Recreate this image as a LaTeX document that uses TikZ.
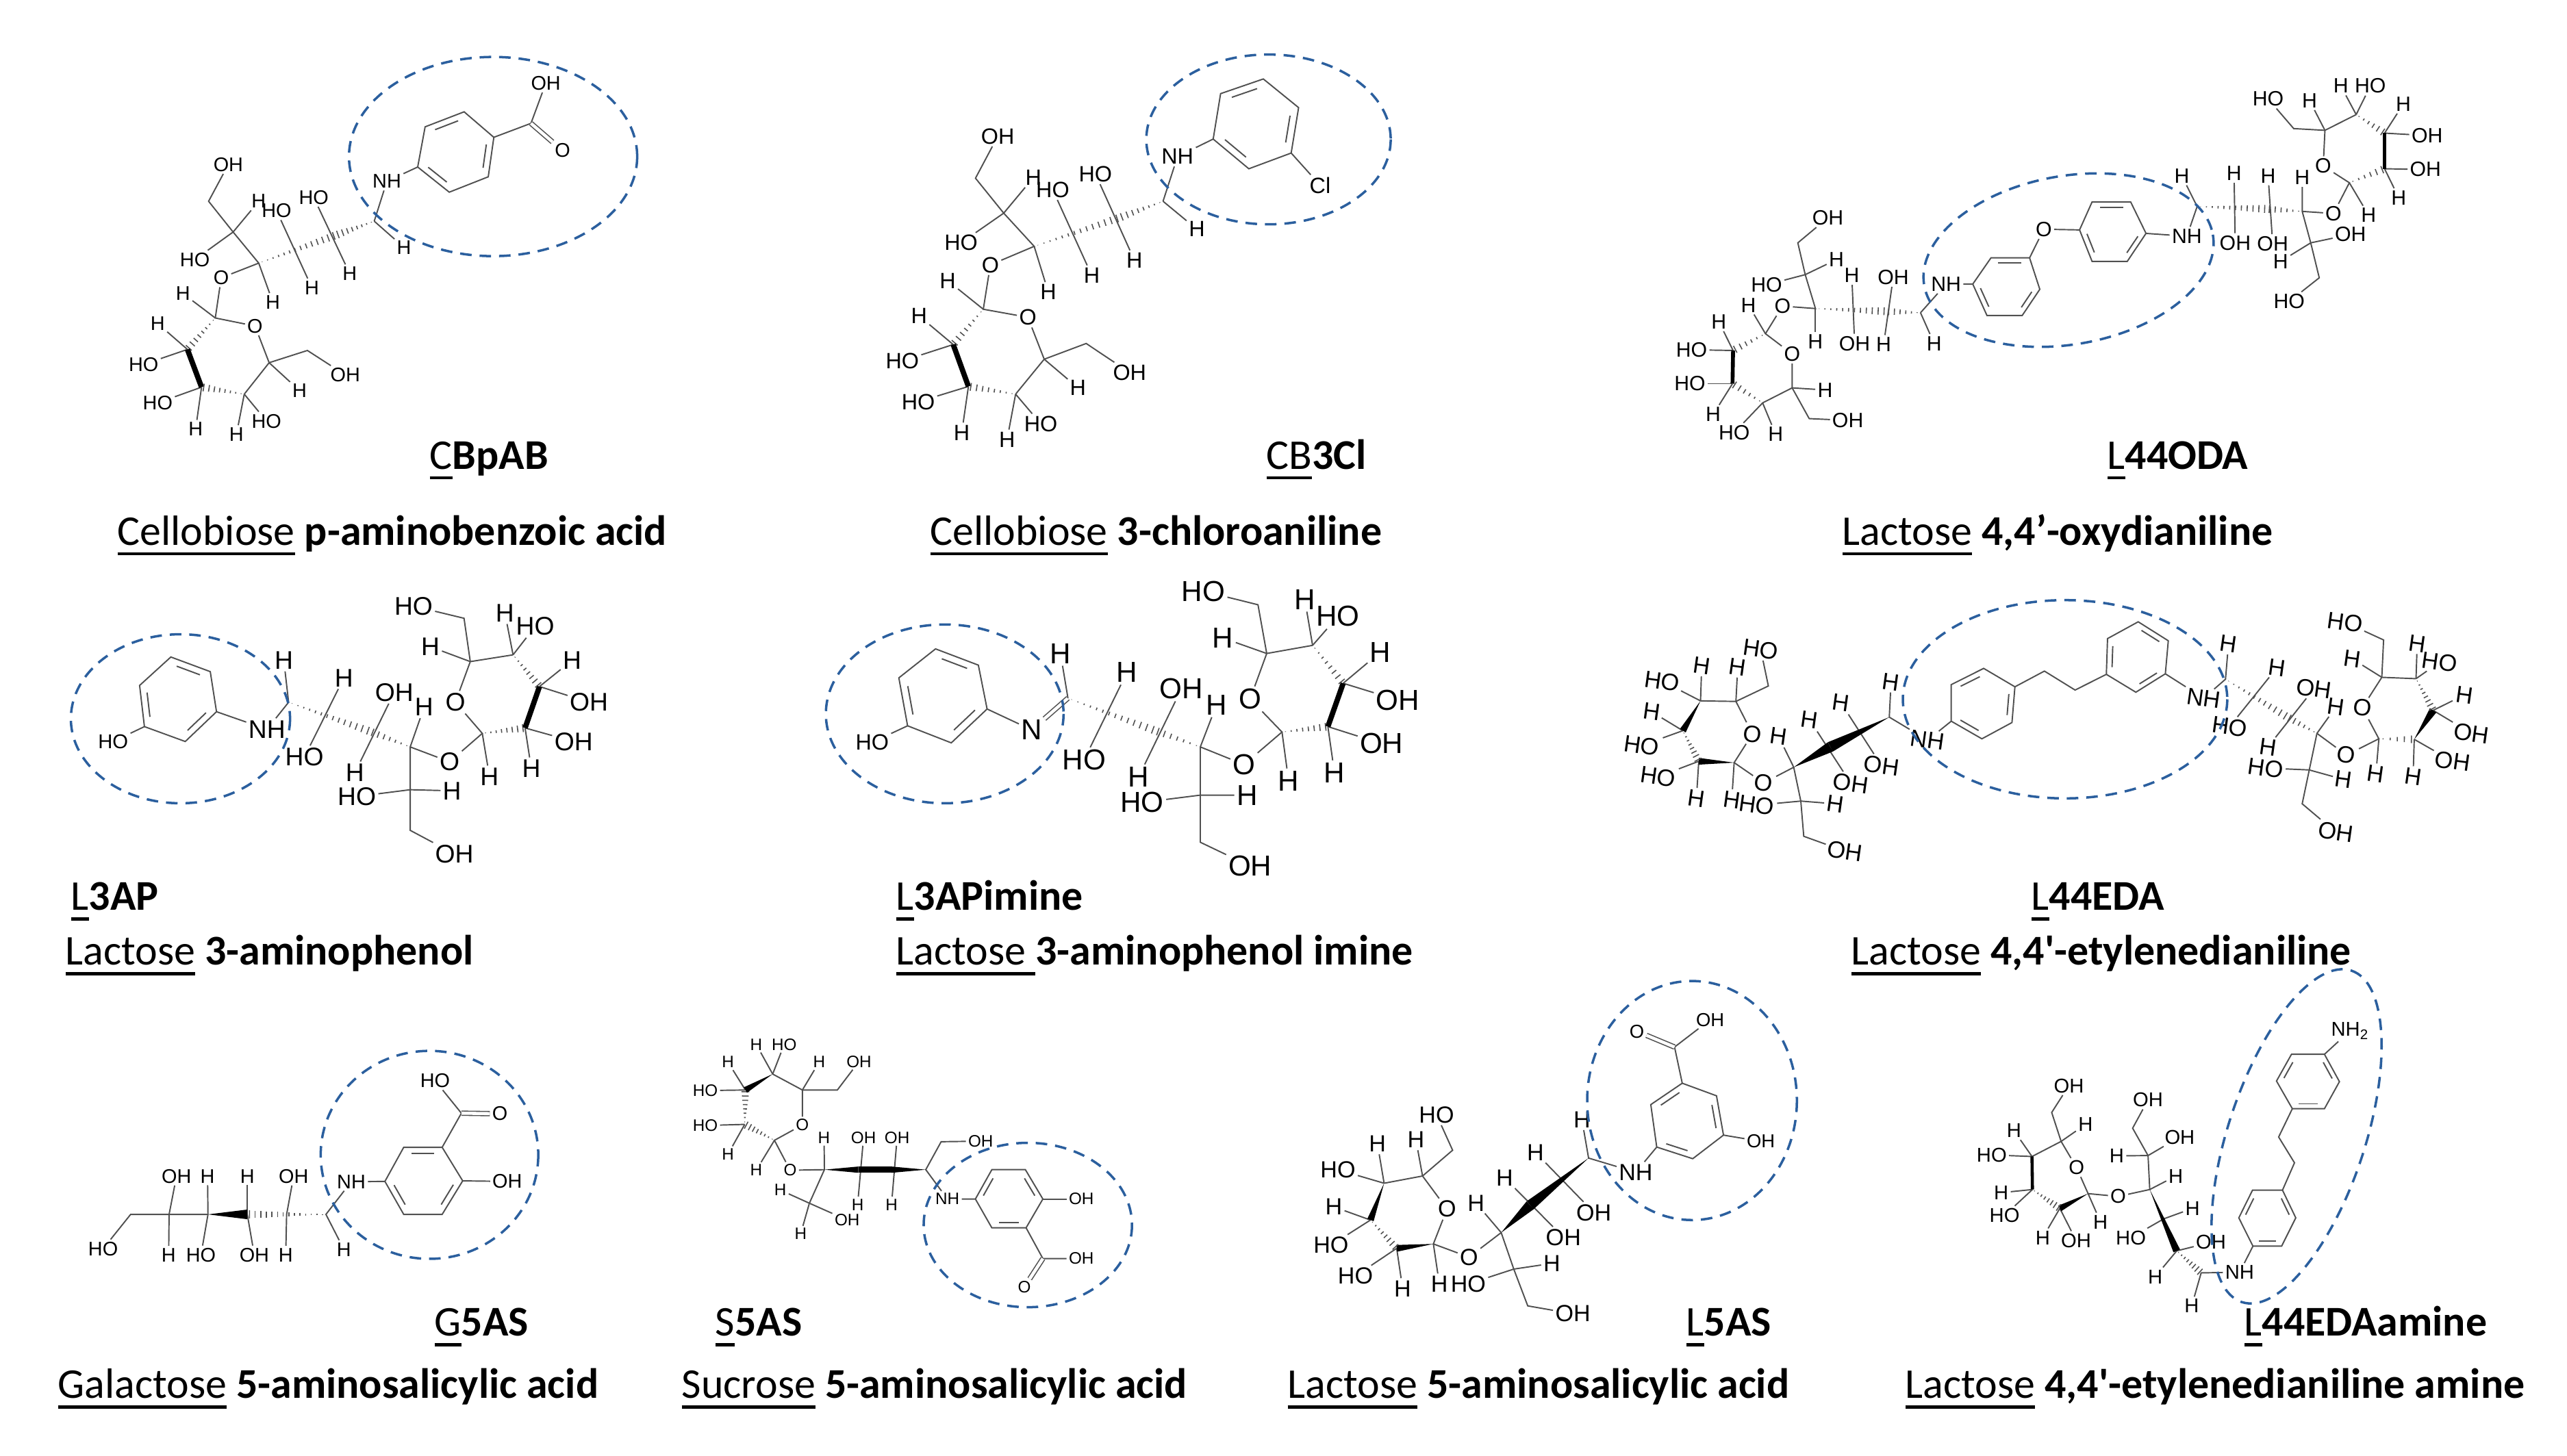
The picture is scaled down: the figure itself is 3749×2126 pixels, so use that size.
\documentclass[tikz,border=0pt]{standalone}
\usepackage{fontspec}
\usepackage{tikz}
\setmainfont{Carlito}
\newfontfamily\atomfamily{Liberation Sans}
\usetikzlibrary{calc}
\definecolor{bondgray}{HTML}{505050}
\definecolor{ringblue}{HTML}{2B5F9E}

\tikzset{
    crop/.style n args={4}{shift={(#1,#2)},x={#3/1568*0.28453pt},y={-#4/1568*0.28453pt},bondgray,line width=0.55pt},
    atomfont/.style={font=\atomfamily\fontsize{#1pt}{#1pt}\selectfont},
    atomsize/.style={every node/.style={inner sep=0.7pt,text=black,atomfont=#1}},
    dbond/.style={double=white,double distance=1.3pt,line width=0.45pt},
    boldbond/.style={black,line width=2.2pt},
    targetring/.style={draw=ringblue,line width=1pt,dash pattern=on 4.8pt off 3.3pt},
    title/.style={anchor=base west,inner sep=0pt,text=black,font=\fontsize{17.6pt}{20pt}\selectfont}
}

\newcommand{\ultext}[1]{\setbox0=\hbox{#1}\rlap{\raisebox{-4.4pt}{\rule{\wd0}{1.4pt}}}\box0\relax}
\newcommand{\innerbond}[3]{\draw ($(#1)!0.14!(#2)!0.18!(#3)$) -- ($(#2)!0.14!(#1)!0.18!(#3)$);}
\newcommand{\wedgebond}[3][2pt]{\fill[black] (#2) -- ($(#3)!#1!90:(#2)$) -- ($(#3)!#1!-90:(#2)$) -- cycle;}
\newcommand{\hashbond}[3][8]{%
    \foreach \k in {1,...,#1}{%
        \pgfmathsetmacro{\t}{(\k-0.4)/#1}
        \draw[line width=0.45pt] ($(#2)!\t!(#3)!{\t*1.7pt}!90:(#3)$) -- ($(#2)!\t!(#3)!{\t*1.7pt}!-90:(#3)$);
    }}

\begin{document}
\begin{tikzpicture}[x=0.01cm,y=-0.01cm]
    \useasboundingbox (0,0) rectangle (3749,2126);

    % CBpAB
    \begin{scope}[crop={130}{50}{850}{800},atomsize=8.2,name prefix=cbpab-]
        \coordinate (c6) at (322,478);
        \coordinate (c5) at (388,566);
        \coordinate (c4) at (457,655);
        \coordinate (c3) at (565,620);
        \coordinate (c2) at (665,575);
        \coordinate (c1) at (768,535);
        \node (oc6) at (375,373) {OH};
        \node (hc5) at (457,478) {H};
        \node (oc5) at (285,645) {HO};
        \node (gl) at (356,697) {O};
        \node (hc4) at (495,767) {H};
        \node (oc3) at (505,505) {HO};
        \node (hc3) at (600,725) {H};
        \node (oc2) at (605,467) {HO};
        \node (hc2) at (702,685) {H};
        \node (nh) at (802,421) {NH};
        \node (hc1) at (848,610) {H};
        \draw (oc6) -- (c6) -- (c5) -- (c4) -- (gl);
        \draw (c5) -- (hc5);
        \draw (c5) -- (oc5);
        \draw (c4) -- (hc4);
        \draw (oc3) -- (hc3);
        \draw (oc2) -- (hc2);
        \draw (c1) -- (nh);
        \draw (c1) -- (hc1);
        \hashbond[14]{c4}{c2}
        \hashbond[8]{c1}{c2}
        % sugar ring
        \coordinate (r1) at (340,812);
        \coordinate (r2) at (265,902);
        \coordinate (r3) at (303,1010);
        \coordinate (r4) at (418,1030);
        \coordinate (r5) at (485,940);
        \coordinate (r6) at (588,905);
        \node (rox) at (447,835) {O};
        \node (hr1) at (253,742) {H};
        \node (hr2) at (185,828) {H};
        \node (or2) at (147,945) {HO};
        \node (or3) at (185,1055) {HO};
        \node (hr3) at (287,1130) {H};
        \node (hr4) at (397,1145) {H};
        \node (or4) at (478,1107) {HO};
        \node (hr5) at (567,1020) {H};
        \node (or6) at (690,975) {OH};
        \draw (gl) -- (r1) -- (rox) -- (r5) -- (r4);
        \draw (r1) -- (hr1);
        \draw (r2) -- (hr2);
        \draw (r2) -- (or2);
        \draw (r3) -- (or3);
        \draw (r3) -- (hr3);
        \draw (r4) -- (hr4);
        \draw (r4) -- (or4);
        \draw (r5) -- (hr5);
        \draw (r5) -- (r6) -- (or6);
        \hashbond{r1}{r2}
        \draw[boldbond] (r2) -- (r3);
        \hashbond{r4}{r3}
        % aromatic part
        \coordinate (b1) at (885,380);
        \coordinate (b2) at (905,265);
        \coordinate (b3) at (1010,222);
        \coordinate (b4) at (1090,295);
        \coordinate (b5) at (1075,408);
        \coordinate (b6) at (970,452);
        \coordinate (bx) at ($(b1)!0.5!(b4)$);
        \coordinate (cx) at (1190,255);
        \node (ox) at (1230,140) {OH};
        \node (oy) at (1275,333) {O};
        \draw (nh) -- (b1) -- (b2) -- (b3) -- (b4) -- (b5) -- (b6) -- (b1);
        \innerbond{b2}{b3}{bx}
        \innerbond{b4}{b5}{bx}
        \innerbond{b6}{b1}{bx}
        \draw (b4) -- (cx) -- (ox);
        \draw[dbond] (cx) -- (oy);
        \draw[targetring] (1088,350) ellipse [x radius=388,y radius=285];
    \end{scope}
    \node[title] (cbpabcode) at (627,685) {\ultext{C}\textbf{BpAB}};
    \node[title] (cbpabname) at (171,796) {\ultext{Cellobiose} \textbf{p-aminobenzoic acid}};

    % CB3Cl
    \begin{scope}[crop={1250}{50}{850}{800},atomsize=9.2,name prefix=cbcl-]
        \coordinate (c6) at (322,412);
        \coordinate (c5) at (398,512);
        \coordinate (c4) at (480,607);
        \coordinate (c3) at (597,565);
        \coordinate (c2) at (710,525);
        \coordinate (c1) at (827,478);
        \node (oc6) at (382,292) {OH};
        \node (hc5) at (478,410) {H};
        \node (oc5) at (283,597) {HO};
        \node (gl) at (362,660) {O};
        \node (hc4) at (518,738) {H};
        \node (oc3) at (530,445) {HO};
        \node (hc3) at (635,690) {H};
        \node (oc2) at (645,400) {HO};
        \node (hc2) at (750,647) {H};
        \node (nh) at (866,350) {NH};
        \node (hc1) at (918,558) {H};
        \draw (oc6) -- (c6) -- (c5) -- (c4) -- (gl);
        \draw (c5) -- (hc5);
        \draw (c5) -- (oc5);
        \draw (c4) -- (hc4);
        \draw (oc3) -- (hc3);
        \draw (oc2) -- (hc2);
        \draw (c1) -- (nh);
        \draw (c1) -- (hc1);
        \hashbond[14]{c4}{c2}
        \hashbond[8]{c1}{c2}
        % sugar ring
        \coordinate (r1) at (343,787);
        \coordinate (r2) at (262,888);
        \coordinate (r3) at (303,1008);
        \coordinate (r4) at (430,1030);
        \coordinate (r5) at (507,930);
        \coordinate (r6) at (620,885);
        \node (rox) at (463,810) {O};
        \node (hr1) at (247,705) {H};
        \node (hr2) at (170,806) {H};
        \node (or2) at (125,935) {HO};
        \node (or3) at (168,1052) {HO};
        \node (hr3) at (285,1140) {H};
        \node (hr4) at (407,1160) {H};
        \node (or4) at (498,1115) {HO};
        \node (hr5) at (598,1012) {H};
        \node (or6) at (737,968) {OH};
        \draw (gl) -- (r1) -- (rox) -- (r5) -- (r4);
        \draw (r1) -- (hr1);
        \draw (r2) -- (hr2);
        \draw (r2) -- (or2);
        \draw (r3) -- (or3);
        \draw (r3) -- (hr3);
        \draw (r4) -- (hr4);
        \draw (r4) -- (or4);
        \draw (r5) -- (hr5);
        \draw (r5) -- (r6) -- (or6);
        \hashbond{r1}{r2}
        \draw[boldbond] (r2) -- (r3);
        \hashbond{r4}{r3}
        % aromatic part
        \coordinate (b1) at (962,300);
        \coordinate (b2) at (982,170);
        \coordinate (b3) at (1097,128);
        \coordinate (b4) at (1192,210);
        \coordinate (b5) at (1172,340);
        \coordinate (b6) at (1058,385);
        \coordinate (bx) at ($(b1)!0.5!(b4)$);
        \node (cl) at (1250,432) {Cl};
        \draw (nh) -- (b1) -- (b2) -- (b3) -- (b4) -- (b5) -- (b6) -- (b1);
        \innerbond{b2}{b3}{bx}
        \innerbond{b4}{b5}{bx}
        \innerbond{b6}{b1}{bx}
        \draw (b5) -- (cl);
        \draw[targetring] (1111,301) ellipse [x radius=329,y radius=243];
    \end{scope}
    \node[title] (cbclcode) at (1849,685) {\ultext{CB}\textbf{3Cl}};
    \node[title] (cbclname) at (1358,796) {\ultext{Cellobiose} \textbf{3-chloroaniline}};

    % L44ODA
    \begin{scope}[crop={2400}{50}{1300}{800},atomsize=8.6,name prefix=oda-]
        \coordinate (c6) at (272,597);
        \coordinate (c5) at (285,688);
        \coordinate (c4) at (303,785);
        \coordinate (c3) at (367,790);
        \coordinate (c2) at (428,793);
        \coordinate (c1) at (488,797);
        \node (oc6) at (325,525) {OH};
        \node (hc5) at (340,645) {H};
        \node (oc5) at (217,717) {HO};
        \node (gl) at (245,778) {O};
        \node (hc4) at (303,880) {H};
        \node (hc3) at (367,690) {H};
        \node (oc3) at (372,885) {OH};
        \node (oc2) at (440,695) {OH};
        \node (hc2) at (423,888) {H};
        \node (nh) at (533,715) {NH};
        \node (hc1) at (512,885) {H};
        \draw (oc6) -- (c6) -- (c5) -- (c4) -- (gl);
        \draw (c5) -- (hc5);
        \draw (c5) -- (oc5);
        \draw (c4) -- (hc4);
        \draw (hc3) -- (oc3);
        \draw (oc2) -- (hc2);
        \draw (c1) -- (nh);
        \draw (c1) -- (hc1);
        \hashbond[12]{c4}{c2}
        \hashbond[6]{c1}{c2}
        % left sugar ring
        \coordinate (r1) at (215,857);
        \coordinate (r2) at (158,905);
        \coordinate (r3) at (157,1000);
        \coordinate (r4) at (210,1055);
        \coordinate (r5) at (262,1012);
        \coordinate (r6) at (292,1100);
        \node (rox) at (262,915) {O};
        \node (hr1) at (185,775) {H};
        \node (hr2) at (133,823) {H};
        \node (or2) at (85,903) {HO};
        \node (or3) at (82,1000) {HO};
        \node (hr3) at (123,1088) {H};
        \node (or4) at (160,1140) {HO};
        \node (hr4) at (233,1145) {H};
        \node (hr5) at (320,1018) {H};
        \node (or6) at (360,1105) {OH};
        \draw (gl) -- (r1) -- (rox) -- (r5) -- (r4);
        \draw (r1) -- (hr1);
        \draw (r2) -- (hr2);
        \draw (r2) -- (or2);
        \draw (r3) -- (or3);
        \draw (r3) -- (hr3);
        \draw (r4) -- (hr4);
        \draw (r4) -- (or4);
        \draw (r5) -- (hr5);
        \draw (r5) -- (r6) -- (or6);
        \hashbond[6]{r1}{r2}
        \draw[boldbond,line width=1.6pt] (r2) -- (r3);
        \hashbond[6]{r4}{r3}
        % aromatic part
        \coordinate (a1) at (580,715);
        \coordinate (a2) at (612,640);
        \coordinate (a3) at (680,640);
        \coordinate (a4) at (698,730);
        \coordinate (a5) at (667,805);
        \coordinate (a6) at (605,805);
        \coordinate (ax) at ($(a1)!0.5!(a4)$);
        \coordinate (b1) at (768,560);
        \coordinate (b2) at (790,480);
        \coordinate (b3) at (858,480);
        \coordinate (b4) at (885,570);
        \coordinate (b5) at (852,650);
        \coordinate (b6) at (790,650);
        \coordinate (bx) at ($(b1)!0.5!(b4)$);
        \node (ether) at (705,558) {O};
        \node (mh) at (957,578) {NH};
        \draw (nh) -- (a1) -- (a2) -- (a3) -- (a4) -- (a5) -- (a6) -- (a1);
        \innerbond{a2}{a3}{ax}
        \innerbond{a4}{a5}{ax}
        \innerbond{a6}{a1}{ax}
        \draw (a3) -- (ether) -- (b1);
        \draw (b1) -- (b2) -- (b3) -- (b4) -- (b5) -- (b6) -- (b1);
        \innerbond{b2}{b3}{bx}
        \innerbond{b4}{b5}{bx}
        \innerbond{b6}{b1}{bx}
        \draw (b4) -- (mh);
        % right chain
        \coordinate (d1) at (975,493);
        \coordinate (d2) at (1038,495);
        \coordinate (d3) at (1098,500);
        \coordinate (d4) at (1160,507);
        \coordinate (d5) at (1175,597);
        \coordinate (d6) at (1190,697);
        \node (hd1) at (948,405) {H};
        \node (hd2) at (1040,398) {H};
        \node (od2) at (1042,597) {OH};
        \node (hd3) at (1100,405) {H};
        \node (od3) at (1108,600) {OH};
        \node (hd4) at (1160,410) {H};
        \node (gm) at (1215,513) {O};
        \node (od5) at (1245,573) {OH};
        \node (hd5) at (1122,650) {H};
        \node (od6) at (1137,765) {HO};
        \draw (mh) -- (d1) -- (hd1);
        \draw (hd2) -- (od2);
        \draw (hd3) -- (od3);
        \draw (hd4) -- (d4) -- (d5) -- (d6) -- (od6);
        \draw (d4) -- (gm);
        \draw (d5) -- (od5);
        \draw (d5) -- (hd5);
        \hashbond[12]{d1}{d3}
        \hashbond[6]{d4}{d3}
        % right sugar ring
        \coordinate (t1) at (1243,425);
        \coordinate (t2) at (1305,385);
        \coordinate (t3) at (1305,283);
        \coordinate (t4) at (1255,230);
        \coordinate (t5) at (1200,275);
        \coordinate (t6) at (1145,270);
        \node (tox) at (1197,377) {O};
        \node (ht1) at (1277,518) {H};
        \node (ot2) at (1377,387) {OH};
        \node (ht2) at (1330,468) {H};
        \node (ot3) at (1380,290) {OH};
        \node (ht3) at (1338,200) {H};
        \node (ht4) at (1228,148) {H};
        \node (ot4) at (1280,148) {HO};
        \node (ht5) at (1173,190) {H};
        \node (ot6) at (1100,185) {HO};
        \draw (gm) -- (t1) -- (tox) -- (t5) -- (t4);
        \draw (t1) -- (ht1);
        \draw (t2) -- (ot2);
        \draw (t2) -- (ht2);
        \draw (t3) -- (ot3);
        \draw (t3) -- (ht3);
        \draw (t4) -- (ht4);
        \draw (t4) -- (ot4);
        \draw (t5) -- (ht5);
        \draw (t5) -- (t6) -- (ot6);
        \hashbond[6]{t1}{t2}
        \draw[boldbond,line width=1.6pt] (t2) -- (t3);
        \hashbond[6]{t4}{t3}
    \end{scope}
    \draw[targetring,rotate around={10:(3021,380)}] (3021,380) ellipse [x radius=214,y radius=123];
    \node[title] (odacode) at (3077,685) {\ultext{L}\textbf{44ODA}};
    \node[title] (odaname) at (2690,796) {\ultext{Lactose} \textbf{4,4’-oxydianiline}};

    % L3AP
    \begin{scope}[crop={60}{830}{1100}{620},atomsize=10.6,name prefix=ap-]
        \coordinate (b1) at (365,530);
        \coordinate (b2) at (352,382);
        \coordinate (b3) at (270,328);
        \coordinate (b4) at (205,433);
        \coordinate (b5) at (215,585);
        \coordinate (b6) at (300,640);
        \coordinate (bx) at ($(b1)!0.5!(b4)$);
        \node[atomfont=8.3] (ob) at (150,640) {HO};
        \node (nh) at (470,595) {NH};
        \draw (nh) -- (b1) -- (b2) -- (b3) -- (b4) -- (b5) -- (b6) -- (b1);
        \innerbond{b2}{b3}{bx}
        \innerbond{b4}{b5}{bx}
        \innerbond{b6}{b1}{bx}
        \draw (b5) -- (ob);
        % chain
        \coordinate (c1) at (515,495);
        \coordinate (c2) at (600,545);
        \coordinate (c3) at (685,603);
        \coordinate (c4) at (768,660);
        \coordinate (c5) at (768,818);
        \coordinate (c6) at (768,968);
        \node (hc1) at (505,340) {H};
        \node (hc2) at (630,405) {H};
        \node (oc2) at (548,697) {HO};
        \node (oc3) at (735,458) {OH};
        \node (hc3) at (653,755) {H};
        \node (hc4) at (797,513) {H};
        \node (gl) at (850,715) {O};
        \node (oc5) at (657,843) {HO};
        \node (hc5) at (855,822) {H};
        \node (oc6) at (860,1055) {OH};
        \draw (nh) -- (c1) -- (hc1);
        \draw (hc2) -- (oc2);
        \draw (oc3) -- (hc3);
        \draw (hc4) -- (c4) -- (c5) -- (c6) -- (oc6);
        \draw (c4) -- (gl);
        \draw (oc5) -- (c5) -- (hc5);
        \hashbond[14]{c1}{c3}
        \hashbond[7]{c4}{c3}
        % sugar ring
        \coordinate (r1) at (918,610);
        \coordinate (r2) at (1007,590);
        \coordinate (r3) at (1037,437);
        \coordinate (r4) at (982,320);
        \coordinate (r5) at (893,345);
        \coordinate (r6) at (880,185);
        \node (rox) at (862,495) {O};
        \node (hr1) at (933,770) {H};
        \node (or2) at (1108,640) {OH};
        \node (hr2) at (1020,740) {H};
        \node (or3) at (1140,495) {OH};
        \node (hr3) at (1105,340) {H};
        \node (hr4) at (965,165) {H};
        \node (or4) at (1028,215) {HO};
        \node (hr5) at (810,290) {H};
        \node (or6) at (775,140) {HO};
        \draw (gl) -- (r1) -- (rox) -- (r5) -- (r4);
        \draw (r1) -- (hr1);
        \draw (r2) -- (or2);
        \draw (r2) -- (hr2);
        \draw (r3) -- (or3);
        \draw (r3) -- (hr3);
        \draw (r4) -- (hr4);
        \draw (r4) -- (or4);
        \draw (r5) -- (hr5);
        \draw (r5) -- (r6) -- (or6);
        \hashbond{r1}{r2}
        \draw[boldbond] (r2) -- (r3);
        \hashbond{r4}{r3}
        \draw[targetring] (290,556) ellipse [x radius=228,y radius=312];
    \end{scope}
    \node[title] (apcode) at (103,1329) {\ultext{L}\textbf{3AP}};
    \node[title] (apname) at (95,1409) {\ultext{Lactose} \textbf{3-aminophenol}};

    % L3APimine
    \begin{scope}[crop={1180}{830}{1000}{620},atomsize=12,name prefix=imine-]
        \coordinate (b1) at (410,520);
        \coordinate (b2) at (390,358);
        \coordinate (b3) at (292,298);
        \coordinate (b4) at (208,405);
        \coordinate (b5) at (228,582);
        \coordinate (b6) at (328,645);
        \coordinate (bx) at ($(b1)!0.5!(b4)$);
        \node[atomfont=9.2] (ob) at (147,643) {HO};
        \node (nn) at (512,597) {N};
        \draw (nn) -- (b1) -- (b2) -- (b3) -- (b4) -- (b5) -- (b6) -- (b1);
        \innerbond{b2}{b3}{bx}
        \innerbond{b4}{b5}{bx}
        \innerbond{b6}{b1}{bx}
        \draw (b5) -- (ob);
        % chain
        \coordinate (c1) at (595,480);
        \coordinate (c2) at (695,545);
        \coordinate (c3) at (795,600);
        \coordinate (c4) at (898,660);
        \coordinate (c5) at (898,838);
        \coordinate (c6) at (898,1012);
        \node (hc1) at (578,315) {H};
        \node (hc2) at (730,385) {H};
        \node (oc2) at (632,708) {HO};
        \node (oc3) at (855,445) {OH};
        \node (hc3) at (757,770) {H};
        \node (hc4) at (935,505) {H};
        \node (gl) at (998,725) {O};
        \node (oc5) at (765,865) {HO};
        \node (hc5) at (1005,838) {H};
        \node (oc6) at (1012,1100) {OH};
        \draw[dbond] (nn) -- (c1);
        \draw (c1) -- (hc1);
        \draw (hc2) -- (oc2);
        \draw (oc3) -- (hc3);
        \draw (hc4) -- (c4) -- (c5) -- (c6) -- (oc6);
        \draw (c4) -- (gl);
        \draw (oc5) -- (c5) -- (hc5);
        \hashbond[14]{c1}{c3}
        \hashbond[7]{c4}{c3}
        % sugar ring
        \coordinate (r1) at (1085,605);
        \coordinate (r2) at (1190,585);
        \coordinate (r3) at (1225,425);
        \coordinate (r4) at (1155,285);
        \coordinate (r5) at (1050,315);
        \coordinate (r6) at (1030,135);
        \node (rox) at (1012,483) {O};
        \node (hr1) at (1100,785) {H};
        \node (or2) at (1313,648) {OH};
        \node (hr2) at (1205,755) {H};
        \node (or3) at (1350,487) {OH};
        \node (hr3) at (1310,310) {H};
        \node (hr4) at (1137,115) {H};
        \node (or4) at (1213,178) {HO};
        \node (hr5) at (950,258) {H};
        \node (or6) at (905,85) {HO};
        \draw (gl) -- (r1) -- (rox) -- (r5) -- (r4);
        \draw (r1) -- (hr1);
        \draw (r2) -- (or2);
        \draw (r2) -- (hr2);
        \draw (r3) -- (or3);
        \draw (r3) -- (hr3);
        \draw (r4) -- (hr4);
        \draw (r4) -- (or4);
        \draw (r5) -- (hr5);
        \draw (r5) -- (r6) -- (or6);
        \hashbond{r1}{r2}
        \draw[boldbond] (r2) -- (r3);
        \hashbond{r4}{r3}
        \draw[targetring] (313,538) ellipse [x radius=272,y radius=330];
    \end{scope}
    \node[title] (iminecode) at (1308,1329) {\ultext{L}\textbf{3APimine}};
    \node[title] (iminename) at (1308,1409) {\ultext{Lactose\ }\textbf{3-aminophenol imine}};

    % L44EDA
    \begin{scope}[crop={2350}{830}{1350}{620},atomsize=9.8,every node/.append style={rotate=-8},name prefix=eda-]
        \coordinate (c1) at (475,550);
        \coordinate (c2) at (425,610);
        \coordinate (c3) at (375,660);
        \coordinate (c4) at (313,735);
        \coordinate (c5) at (325,860);
        \coordinate (c6) at (330,990);
        \node (hc1) at (478,420) {H};
        \node (nh) at (540,635) {NH};
        \node (hc2) at (393,497) {H};
        \node (oc2) at (462,730) {OH};
        \node (hc3) at (340,560) {H};
        \node (oc3) at (410,795) {OH};
        \node (hc4) at (287,620) {H};
        \node (gl) at (262,793) {O};
        \node (oc5) at (250,875) {HO};
        \node (hc5) at (383,870) {H};
        \node (oc6) at (400,1045) {OH};
        \draw (nh) -- (c1) -- (hc1);
        \draw (hc2) -- (oc2);
        \draw (hc3) -- (oc3);
        \draw (hc4) -- (c4) -- (c5) -- (c6) -- (oc6);
        \draw (c4) -- (gl);
        \draw (oc5) -- (c5) -- (hc5);
        \wedgebond[2.2pt]{c4}{c3}
        \wedgebond[2.2pt]{c1}{c3}
        % left sugar ring
        \coordinate (r1) at (212,718);
        \coordinate (r2) at (152,713);
        \coordinate (r3) at (125,600);
        \coordinate (r4) at (155,490);
        \coordinate (r5) at (215,492);
        \coordinate (r6) at (270,435);
        \node (rox) at (243,612) {O};
        \node (hr1) at (208,855) {H};
        \node (or2) at (83,770) {HO};
        \node (hr2) at (148,850) {H};
        \node (hr3) at (72,530) {H};
        \node (or3) at (55,655) {HO};
        \node (hr4) at (157,360) {H};
        \node (or4) at (90,417) {HO};
        \node (hr5) at (218,365) {H};
        \node (or6) at (257,300) {HO};
        \draw (gl) -- (r1) -- (rox) -- (r5) -- (r4);
        \draw (r1) -- (hr1);
        \draw (r2) -- (or2);
        \draw (r2) -- (hr2);
        \draw (r3) -- (hr3);
        \draw (r3) -- (or3);
        \draw (r4) -- (hr4);
        \draw (r4) -- (or4);
        \draw (r5) -- (hr5);
        \draw (r5) -- (r6) -- (or6);
        \wedgebond[1.4pt]{r1}{r2}
        \hashbond{r3}{r2}
        \wedgebond[1.4pt]{r4}{r3}
        % aromatic part
        \coordinate (a1) at (580,565);
        \coordinate (a2) at (580,430);
        \coordinate (a3) at (635,370);
        \coordinate (a4) at (688,438);
        \coordinate (a5) at (683,570);
        \coordinate (a6) at (632,630);
        \coordinate (ax) at ($(a1)!0.5!(a4)$);
        \coordinate (e1) at (738,380);
        \coordinate (e2) at (790,450);
        \coordinate (b1) at (843,392);
        \coordinate (b2) at (845,260);
        \coordinate (b3) at (897,198);
        \coordinate (b4) at (948,268);
        \coordinate (b5) at (943,390);
        \coordinate (b6) at (893,458);
        \coordinate (bx) at ($(b1)!0.5!(b4)$);
        \node (mh) at (1008,480) {NH};
        \draw (nh) -- (a1) -- (a2) -- (a3) -- (a4) -- (a5) -- (a6) -- (a1);
        \innerbond{a2}{a3}{ax}
        \innerbond{a4}{a5}{ax}
        \innerbond{a6}{a1}{ax}
        \draw (a4) -- (e1) -- (e2) -- (b1);
        \draw (b1) -- (b2) -- (b3) -- (b4) -- (b5) -- (b6) -- (b1);
        \innerbond{b1}{b2}{bx}
        \innerbond{b3}{b4}{bx}
        \innerbond{b5}{b6}{bx}
        \draw (b5) -- (mh);
        % right chain
        \coordinate (d1) at (1045,410);
        \coordinate (d2) at (1100,478);
        \coordinate (d3) at (1150,550);
        \coordinate (d4) at (1200,610);
        \coordinate (d5) at (1187,745);
        \coordinate (d6) at (1175,870);
        \node (hd1) at (1050,280) {H};
        \node (hd2) at (1132,368) {H};
        \node (od2) at (1052,585) {HO};
        \node (od3) at (1195,445) {OH};
        \node (hd3) at (1117,660) {H};
        \node (hd4) at (1232,513) {H};
        \node (gm) at (1250,690) {O};
        \node (od5) at (1113,738) {HO};
        \node (hd5) at (1245,780) {H};
        \node (od6) at (1232,975) {OH};
        \draw (mh) -- (d1) -- (hd1);
        \draw (hd2) -- (od2);
        \draw (od3) -- (hd3);
        \draw (hd4) -- (d4) -- (d5) -- (d6) -- (od6);
        \draw (d4) -- (gm);
        \draw (od5) -- (d5) -- (hd5);
        \hashbond[12]{d1}{d3}
        \hashbond[6]{d4}{d3}
        % right sugar ring
        \coordinate (t1) at (1305,630);
        \coordinate (t2) at (1365,632);
        \coordinate (t3) at (1397,525);
        \coordinate (t4) at (1368,408);
        \coordinate (t5) at (1310,403);
        \coordinate (t6) at (1313,265);
        \node (tox) at (1277,515) {O};
        \node (ht1) at (1300,760) {H};
        \node (ot2) at (1430,713) {OH};
        \node (ht2) at (1363,770) {H};
        \node (ot3) at (1462,610) {OH};
        \node (ht3) at (1450,468) {H};
        \node (ht4) at (1370,278) {H};
        \node (ot4) at (1408,347) {HO};
        \node (ht5) at (1260,335) {H};
        \node (ot6) at (1248,200) {HO};
        \draw (gm) -- (t1) -- (tox) -- (t5) -- (t4);
        \draw (t1) -- (ht1);
        \draw (t2) -- (ot2);
        \draw (t2) -- (ht2);
        \draw (t3) -- (ot3);
        \draw (t3) -- (ht3);
        \draw (t4) -- (ht4);
        \draw (t4) -- (ot4);
        \draw (t5) -- (ht5);
        \draw (t5) -- (t6) -- (ot6);
        \hashbond[5]{t1}{t2}
        \wedgebond[1.6pt]{t2}{t3}
        \hashbond{t4}{t3}
        \draw[targetring] (773,484) ellipse [x radius=275,y radius=366];
    \end{scope}
    \node[title] (edacode) at (2966,1329) {\ultext{L}\textbf{44EDA}};
    \node[title] (edaname) at (2703,1409) {\ultext{Lactose} \textbf{4,4\textquotesingle-etylenedianiline}};

    % G5AS
    \begin{scope}[crop={60}{1480}{1000}{640},atomsize=8.2,name prefix=gas-]
        \coordinate (c6) at (205,720);
        \coordinate (c5) at (293,720);
        \coordinate (c4) at (382,720);
        \coordinate (c3) at (472,720);
        \coordinate (c2) at (562,720);
        \coordinate (c1) at (652,720);
        \node (oc6) at (142,843) {HO};
        \node (oc5) at (310,583) {OH};
        \node (hc5) at (292,865) {H};
        \node (hc4) at (381,583) {H};
        \node (oc4) at (366,865) {HO};
        \node (hc3) at (472,583) {H};
        \node (oc3) at (488,865) {OH};
        \node (oc2) at (578,583) {OH};
        \node (hc2) at (560,865) {H};
        \node (nh) at (710,603) {NH};
        \node (hc1) at (693,845) {H};
        \draw (oc6) -- (c6) -- (c5) -- (c4);
        \draw (c5) -- (oc5);
        \draw (c5) -- (hc5);
        \draw (c4) -- (hc4);
        \draw (c4) -- (oc4);
        \draw (c3) -- (hc3);
        \draw (c3) -- (oc3);
        \draw (c2) -- (oc2);
        \draw (c2) -- (hc2);
        \draw (nh) -- (c1) -- (hc1);
        \wedgebond{c4}{c3}
        \hashbond[14]{c1}{c3}
        % aromatic part
        \coordinate (b1) at (787,602);
        \coordinate (b2) at (830,480);
        \coordinate (b3) at (918,480);
        \coordinate (b4) at (965,600);
        \coordinate (b5) at (918,720);
        \coordinate (b6) at (830,720);
        \coordinate (bx) at ($(b1)!0.5!(b4)$);
        \coordinate (cx) at (962,358);
        \node (ox) at (902,242) {HO};
        \node (oy) at (1050,360) {O};
        \node (oz) at (1067,602) {OH};
        \draw (nh) -- (b1) -- (b2) -- (b3) -- (b4) -- (b5) -- (b6) -- (b1);
        \innerbond{b2}{b3}{bx}
        \innerbond{b4}{b5}{bx}
        \innerbond{b6}{b1}{bx}
        \draw (b3) -- (cx) -- (ox);
        \draw[dbond] (cx) -- (oy);
        \draw (b4) -- (oz);
        \draw[targetring] (889,507) ellipse [x radius=249,y radius=372];
    \end{scope}
    \node[title] (gascode) at (634,1951) {\ultext{G}\textbf{5AS}};
    \node[title] (gasname) at (84,2042) {\ultext{Galactose} \textbf{5-aminosalicylic acid}};

    % S5AS
    \begin{scope}[crop={960}{1480}{800}{640},atomsize=6.9,name prefix=sas-]
        \coordinate (r1) at (335,455);
        \coordinate (r2) at (250,398);
        \coordinate (r3) at (252,275);
        \coordinate (r4) at (330,218);
        \coordinate (r5) at (415,275);
        \coordinate (r6) at (515,275);
        \node (rox) at (415,400) {O};
        \node (gl) at (380,562) {O};
        \node (hr1) at (283,562) {H};
        \node (or2) at (137,402) {HO};
        \node (hr2) at (202,505) {H};
        \node (or3) at (137,277) {HO};
        \node (hr3) at (202,175) {H};
        \node (hr4) at (283,112) {H};
        \node (or4) at (363,112) {HO};
        \node (hr5) at (463,175) {H};
        \node (or6) at (577,173) {OH};
        \draw (gl) -- (r1) -- (rox) -- (r5) -- (r4);
        \draw (r1) -- (hr1);
        \draw (r2) -- (or2);
        \draw (r2) -- (hr2);
        \draw (r3) -- (or3);
        \draw (r3) -- (hr3);
        \draw (r4) -- (hr4);
        \draw (r4) -- (or4);
        \draw (r5) -- (hr5);
        \draw (r5) -- (r6) -- (or6);
        \hashbond{r1}{r2}
        \hashbond{r2}{r3}
        \wedgebond[1.3pt]{r4}{r3}
        % chain
        \coordinate (c4) at (478,560);
        \coordinate (c3) at (575,560);
        \coordinate (c2) at (670,560);
        \coordinate (c1) at (768,560);
        \coordinate (c0) at (812,460);
        \coordinate (c5) at (435,680);
        \node (hc4) at (477,445) {H};
        \node (oc3) at (590,445) {OH};
        \node (hc3) at (573,685) {H};
        \node (oc2) at (686,445) {OH};
        \node (hc2) at (670,685) {H};
        \node (oc0) at (925,458) {OH};
        \node (nh) at (830,665) {NH};
        \node (hc5) at (352,633) {H};
        \node (hd5) at (410,790) {H};
        \node (oc5) at (543,740) {OH};
        \draw (gl) -- (c4) -- (hc4);
        \draw (oc3) -- (hc3);
        \draw (oc2) -- (hc2);
        \draw (nh) -- (c1) -- (c0) -- (oc0);
        \draw (c4) -- (c5) -- (oc5);
        \draw (c5) -- (hc5);
        \draw (c5) -- (hd5);
        \wedgebond[1.3pt]{c4}{c3}
        \draw[boldbond,line width=2.6pt] (c3) -- (c2);
        \wedgebond[1.3pt]{c1}{c2}
        % aromatic part
        \coordinate (b1) at (910,665);
        \coordinate (b2) at (957,560);
        \coordinate (b3) at (1053,560);
        \coordinate (b4) at (1103,665);
        \coordinate (b5) at (1055,768);
        \coordinate (b6) at (957,768);
        \coordinate (bx) at ($(b1)!0.5!(b4)$);
        \coordinate (cx) at (1103,878);
        \node (oz) at (1213,665) {OH};
        \node (ox) at (1213,878) {OH};
        \node (oy) at (1050,980) {O};
        \draw (nh) -- (b1) -- (b2) -- (b3) -- (b4) -- (b5) -- (b6) -- (b1);
        \innerbond{b1}{b2}{bx}
        \innerbond{b3}{b4}{bx}
        \innerbond{b5}{b6}{bx}
        \draw (b4) -- (oz);
        \draw (b5) -- (cx) -- (ox);
        \draw[dbond] (cx) -- (oy);
        \draw[targetring] (1060,758) ellipse [x radius=298,y radius=294];
    \end{scope}
    \node[title] (sascode) at (1044,1951) {\ultext{S}\textbf{5AS}};
    \node[title] (sasname) at (995,2042) {\ultext{Sucrose} \textbf{5-aminosalicylic acid}};

    % L5AS
    \begin{scope}[crop={1880}{1400}{800}{720},atomsize=9.7,name prefix=las-]
        \coordinate (r1) at (418,908);
        \coordinate (r2) at (313,922);
        \coordinate (r3) at (238,832);
        \coordinate (r4) at (277,715);
        \coordinate (r5) at (387,692);
        \coordinate (r6) at (473,610);
        \node (rox) at (457,797) {O};
        \node (gl) at (520,950) {O};
        \node (hr1) at (435,1035) {H};
        \node (or2) at (195,1010) {HO};
        \node (hr2) at (330,1050) {H};
        \node (hr3) at (133,790) {H};
        \node (or3) at (125,912) {HO};
        \node (hr4) at (258,590) {H};
        \node (or4) at (145,672) {HO};
        \node (hr5) at (368,577) {H};
        \node (or6) at (427,497) {HO};
        \draw (gl) -- (r1) -- (rox) -- (r5) -- (r4);
        \draw (r1) -- (hr1);
        \draw (r2) -- (or2);
        \draw (r2) -- (hr2);
        \draw (r3) -- (hr3);
        \draw (r3) -- (or3);
        \draw (r4) -- (hr4);
        \draw (r4) -- (or4);
        \draw (r5) -- (hr5);
        \draw (r5) -- (r6) -- (or6);
        \wedgebond[1.4pt]{r1}{r2}
        \hashbond{r3}{r2}
        \wedgebond[1.4pt]{r4}{r3}
        % chain
        \coordinate (c1) at (862,635);
        \coordinate (c2) at (780,705);
        \coordinate (c3) at (695,785);
        \coordinate (c4) at (612,872);
        \coordinate (c5) at (648,988);
        \coordinate (c6) at (688,1105);
        \node (hc1) at (843,513) {H};
        \node (nh) at (997,680) {NH};
        \node (hc2) at (710,617) {H};
        \node (oc2) at (877,808) {OH};
        \node (hc3) at (622,698) {H};
        \node (oc3) at (790,887) {OH};
        \node (hc4) at (540,778) {H};
        \node (oc5) at (518,1035) {HO};
        \node (hc5) at (757,970) {H};
        \node (oc6) at (817,1130) {OH};
        \draw (nh) -- (c1) -- (hc1);
        \draw (hc2) -- (oc2);
        \draw (hc3) -- (oc3);
        \draw (hc4) -- (c4) -- (c5) -- (c6) -- (oc6);
        \draw (c4) -- (gl);
        \draw (oc5) -- (c5) -- (hc5);
        \wedgebond[2.2pt]{c4}{c3}
        \wedgebond[2.2pt]{c1}{c3}
        % aromatic part
        \coordinate (b1) at (1057,600);
        \coordinate (b2) at (1040,465);
        \coordinate (b3) at (1130,397);
        \coordinate (b4) at (1228,437);
        \coordinate (b5) at (1248,562);
        \coordinate (b6) at (1160,637);
        \coordinate (bx) at ($(b1)!0.5!(b4)$);
        \coordinate (cx) at (1108,282);
        \node[atomfont=7.8] (oz) at (1355,582) {OH};
        \node[atomfont=7.8] (ox) at (1210,195) {OH};
        \node[atomfont=7.8] (oy) at (1000,232) {O};
        \draw (nh) -- (b1) -- (b2) -- (b3) -- (b4) -- (b5) -- (b6) -- (b1);
        \innerbond{b2}{b3}{bx}
        \innerbond{b4}{b5}{bx}
        \innerbond{b6}{b1}{bx}
        \draw (b5) -- (oz);
        \draw (b3) -- (cx) -- (ox);
        \draw[dbond] (cx) -- (oy);
        \draw[targetring] (1158,452) ellipse [x radius=300,y radius=380];
    \end{scope}
    \node[title] (lascode) at (2462,1951) {\ultext{L}\textbf{5AS}};
    \node[title] (lasname) at (1880,2042) {\ultext{Lactose} \textbf{5-aminosalicylic acid}};

    % L44EDAamine
    \begin{scope}[crop={2760}{1400}{980}{720},atomsize=8.3,name prefix=amine-]
        \coordinate (r1) at (463,748);
        \coordinate (r2) at (397,795);
        \coordinate (r3) at (333,735);
        \coordinate (r4) at (332,630);
        \coordinate (r5) at (400,582);
        \coordinate (r6) at (378,490);
        \node (rox) at (436,665) {O};
        \node (gl) at (533,757) {O};
        \node (hr1) at (492,838) {H};
        \node (hr2) at (357,888) {H};
        \node (or2) at (435,897) {OH};
        \node (hr3) at (260,745) {H};
        \node (or3) at (268,817) {HO};
        \node (hr4) at (290,548) {H};
        \node (or4) at (238,625) {HO};
        \node (hr5) at (457,528) {H};
        \node (or6) at (418,405) {OH};
        \draw (gl) -- (r1) -- (rox) -- (r5) -- (r4);
        \draw (r1) -- (hr1);
        \draw (r2) -- (hr2);
        \draw (r2) -- (or2);
        \draw (r3) -- (hr3);
        \draw (r3) -- (or3);
        \draw (r4) -- (hr4);
        \draw (r4) -- (or4);
        \draw (r5) -- (hr5);
        \draw (r5) -- (r6) -- (or6);
        \wedgebond[1.3pt]{r1}{r2}
        \hashbond{r3}{r2}
        \draw[boldbond,line width=1.3pt] (r4) -- (r3);
        % chain
        \coordinate (c1) at (727,1000);
        \coordinate (c2) at (670,930);
        \coordinate (c3) at (640,828);
        \coordinate (c4) at (607,735);
        \coordinate (c5) at (603,627);
        \coordinate (c6) at (567,540);
        \node (nh) at (817,998) {NH};
        \node (hc1) at (705,1105) {H};
        \node (oc2) at (750,903) {OH};
        \node (hc2) at (620,1012) {H};
        \node (hc3) at (707,795) {H};
        \node (oc3) at (563,888) {HO};
        \node (hc4) at (668,692) {H};
        \node (hc5) at (530,628) {H};
        \node (oc5) at (677,568) {OH};
        \node (oc6) at (603,450) {OH};
        \draw (gl) -- (c4) -- (c5) -- (c6) -- (oc6);
        \draw (c4) -- (hc4);
        \draw (c5) -- (hc5);
        \draw (c5) -- (oc5);
        \draw (c3) -- (hc3);
        \draw (c3) -- (oc3);
        \draw (c2) -- (oc2);
        \draw (c2) -- (hc2);
        \draw (nh) -- (c1) -- (hc1);
        \wedgebond[1.5pt]{c4}{c2}
        \hashbond{c2}{c1}
        % aromatic part
        \coordinate (a1) at (848,915);
        \coordinate (a2) at (815,825);
        \coordinate (a3) at (847,737);
        \coordinate (a4) at (917,737);
        \coordinate (a5) at (948,825);
        \coordinate (a6) at (915,915);
        \coordinate (ax) at ($(a1)!0.5!(a4)$);
        \coordinate (e1) at (945,650);
        \coordinate (e2) at (908,568);
        \coordinate (b1) at (940,478);
        \coordinate (b2) at (903,390);
        \coordinate (b3) at (938,305);
        \coordinate (b4) at (1015,305);
        \coordinate (b5) at (1050,392);
        \coordinate (b6) at (1015,478);
        \coordinate (bx) at ($(b1)!0.5!(b4)$);
        \node (nn) at (1075,230) {NH\textsubscript{2}};
        \draw (nh) -- (a1) -- (a2) -- (a3) -- (a4) -- (a5) -- (a6) -- (a1);
        \innerbond{a2}{a3}{ax}
        \innerbond{a4}{a5}{ax}
        \innerbond{a6}{a1}{ax}
        \draw (a4) -- (e1) -- (e2) -- (b1);
        \draw (b1) -- (b2) -- (b3) -- (b4) -- (b5) -- (b6) -- (b1);
        \innerbond{b2}{b3}{bx}
        \innerbond{b4}{b5}{bx}
        \innerbond{b6}{b1}{bx}
        \draw (b4) -- (nn);
    \end{scope}
    \draw[targetring,rotate around={71.7:(3354,1660)}] (3354,1660) ellipse [x radius=255,y radius=100];
    \node[title] (aminecode) at (3277,1951) {\ultext{L}\textbf{44EDAamine}};
    \node[title] (aminename) at (2782,2042) {\ultext{Lactose} \textbf{4,4\textquotesingle-etylenedianiline amine}};
\end{tikzpicture}
\end{document}
